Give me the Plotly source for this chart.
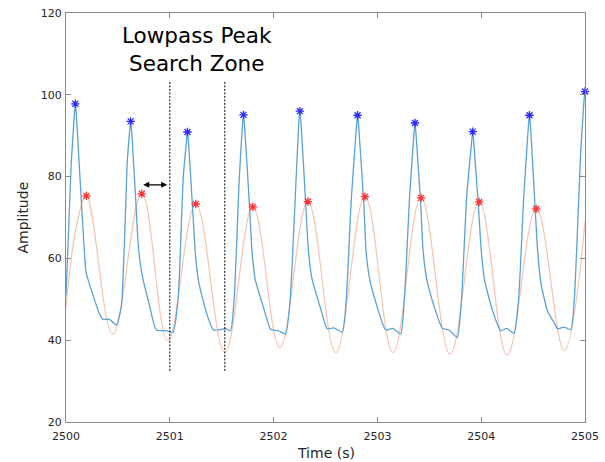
import plotly.graph_objects as go

# ---------------- data ----------------
blue_t = [
    2500.000, 2500.050, 2500.080, 2500.090, 2500.100, 2500.125, 2500.190, 2500.203, 2500.320,
    2500.356, 2500.420, 2500.485, 2500.533, 2500.591, 2500.613, 2500.623, 2500.633,
    2500.670, 2500.700, 2500.736, 2500.800, 2500.870, 2500.970, 2501.030, 2501.080, 2501.130,
    2501.160, 2501.170, 2501.180,
    2501.220, 2501.250, 2501.280, 2501.350, 2501.420, 2501.536, 2501.585, 2501.620, 2501.670,
    2501.700, 2501.710, 2501.720,
    2501.768, 2501.791, 2501.823, 2501.900, 2501.967, 2501.987, 2502.050, 2502.115, 2502.160,
    2502.200, 2502.243, 2502.253, 2502.263,
    2502.310, 2502.335, 2502.370, 2502.450, 2502.517, 2502.581, 2502.662, 2502.700, 2502.750,
    2502.799, 2502.809, 2502.819,
    2502.870, 2502.890, 2502.925, 2503.000, 2503.079, 2503.149, 2503.224, 2503.260, 2503.310,
    2503.352, 2503.362, 2503.372,
    2503.420, 2503.440, 2503.475, 2503.550, 2503.626, 2503.690, 2503.770, 2503.810, 2503.860,
    2503.908, 2503.918, 2503.928,
    2503.975, 2504.000, 2504.030, 2504.100, 2504.188, 2504.246, 2504.316, 2504.360, 2504.410,
    2504.455, 2504.465, 2504.475,
    2504.520, 2504.543, 2504.575, 2504.640, 2504.704, 2504.735, 2504.800, 2504.863, 2504.895,
    2504.960, 2504.990, 2505.000,
]
blue_v = [
    51.0, 83.0, 95.0, 97.8, 95.0, 84.0, 57.2, 55.6, 46.6,
    45.1, 45.1, 43.7, 48.2, 84.0, 91.0, 93.5, 91.0,
    75.0, 62.0, 55.6, 49.0, 42.5, 42.3, 41.9, 50.0, 80.0,
    88.5, 90.9, 88.5,
    72.0, 60.0, 54.0, 47.0, 42.5, 42.8, 42.3, 50.0, 80.0,
    92.5, 95.1, 92.5,
    72.7, 62.1, 54.8, 48.2, 42.8, 42.5, 42.3, 41.5, 50.0,
    70.0, 93.5, 96.0, 93.5,
    73.0, 62.0, 55.0, 48.0, 42.8, 43.0, 42.0, 50.0, 75.0,
    92.5, 95.0, 92.5,
    73.0, 62.0, 55.0, 48.0, 42.5, 42.9, 41.5, 50.0, 75.0,
    90.5, 93.1, 90.5,
    72.0, 62.0, 55.0, 48.0, 42.9, 42.5, 40.7, 50.0, 75.0,
    88.5, 91.0, 88.5,
    72.0, 62.0, 55.0, 48.0, 42.3, 42.9, 41.7, 50.0, 75.0,
    92.5, 95.0, 92.5,
    72.0, 62.1, 54.0, 47.0, 44.2, 42.8, 43.2, 42.6, 49.0,
    86.6, 98.5, 100.8,
]

red_t = [2500.000, 2500.100, 2500.196, 2500.450, 2500.730, 2500.980, 2501.250, 2501.530,
         2501.800, 2502.060, 2502.330, 2502.600, 2502.880, 2503.150, 2503.420, 2503.700,
         2503.980, 2504.250, 2504.530, 2504.800, 2505.000]
red_v = [47.9, 67.8, 75.3, 41.5, 75.8, 39.9, 73.3, 37.0,
         72.6, 38.2, 73.9, 37.0, 75.1, 37.0, 74.8, 36.6,
         73.8, 36.4, 72.1, 37.5, 69.0]

blue_peak_t = [2500.090, 2500.623, 2501.170, 2501.710, 2502.253, 2502.809, 2503.362, 2503.918, 2504.465, 2505.000]
blue_peak_v = [97.8, 93.5, 90.9, 95.1, 96.0, 95.0, 93.1, 91.0, 95.0, 100.8]

red_peak_t = [2500.196, 2500.730, 2501.250, 2501.800, 2502.330, 2502.880, 2503.420, 2503.980, 2504.530]
red_peak_v = [75.3, 75.8, 73.3, 72.6, 73.9, 75.1, 74.8, 73.8, 72.1]

zone_t = [2501.00, 2501.53]
zone_y = [32.5, 103.5]
arrow_t = [2500.73, 2500.975]
arrow_y = 78.0

x_ticks = [2500, 2501, 2502, 2503, 2504, 2505]
y_ticks = [20, 40, 60, 80, 100, 120]

FONT = "DejaVu Sans"

fig = go.Figure()

fig.add_trace(go.Scatter(x=red_t, y=red_v, mode="lines",
                         line=dict(color="#f5c4b2", width=1.2, shape="spline", smoothing=1.1),
                         hoverinfo="skip", showlegend=False))
fig.add_trace(go.Scatter(x=blue_t, y=blue_v, mode="lines",
                         line=dict(color="#5aa2d8", width=1.3, shape="spline", smoothing=0.5),
                         hoverinfo="skip", showlegend=False))

for zt in zone_t:
    fig.add_trace(go.Scatter(x=[zt, zt], y=zone_y, mode="lines",
                             line=dict(color="black", width=1, dash="2px,1.5px"),
                             hoverinfo="skip", showlegend=False))

fig.add_trace(go.Scatter(x=blue_peak_t, y=blue_peak_v, mode="markers",
                         marker=dict(symbol="asterisk-open", size=7, color="#2b2bff",
                                     line=dict(color="#3333ff", width=1.3)),
                         showlegend=False, cliponaxis=False))
fig.add_trace(go.Scatter(x=red_peak_t, y=red_peak_v, mode="markers",
                         marker=dict(symbol="asterisk-open", size=7, color="#ff3030",
                                     line=dict(color="#ff3030", width=1.3)),
                         showlegend=False, cliponaxis=False))

fig.add_annotation(x=arrow_t[1], y=arrow_y, ax=arrow_t[0], ay=arrow_y,
                   xref="x", yref="y", axref="x", ayref="y",
                   text="", showarrow=True, arrowhead=2, arrowside="end+start",
                   arrowsize=1, arrowwidth=1.2, arrowcolor="black")

fig.add_annotation(x=2501.266, y=111, xref="x", yref="y",
                   text="Lowpass Peak<br>Search Zone", showarrow=False,
                   font=dict(family=FONT, size=21.5, color="black"), align="center")

# axis titles
fig.add_annotation(x=0.5, y=0, xref="paper", yref="paper", yanchor="top", yshift=-21,
                   text="Time (s)", showarrow=False,
                   font=dict(family=FONT, size=14, color="#262626"))
fig.add_annotation(x=0, y=0.5, xref="paper", yref="paper", xanchor="center", xshift=-44,
                   text="Amplitude", showarrow=False, textangle=-90,
                   font=dict(family=FONT, size=14, color="#262626"))

axis_common = dict(showline=True, linecolor="#8a8a8a", linewidth=1, mirror="ticks",
                   ticks="inside", ticklen=5, tickcolor="#8a8a8a", showgrid=False,
                   zeroline=False, automargin=False,
                   tickfont=dict(family=FONT, size=11, color="#262626"))

fig.update_xaxes(range=[2500, 2505], tickvals=x_ticks, ticktext=[str(v) for v in x_ticks],
                 ticklabelstandoff=4, **axis_common)
fig.update_yaxes(range=[20, 120], tickvals=y_ticks, ticktext=[str(v) for v in y_ticks],
                 ticklabelstandoff=1, **axis_common)

fig.update_layout(width=605, height=462, margin=dict(l=66, r=20, t=13, b=40, autoexpand=False),
                  paper_bgcolor="white", plot_bgcolor="white", showlegend=False)

fig.write_html("out.html", config={"displayModeBar": False},
               post_script="document.body.style.margin='0';document.body.style.padding='0';")
